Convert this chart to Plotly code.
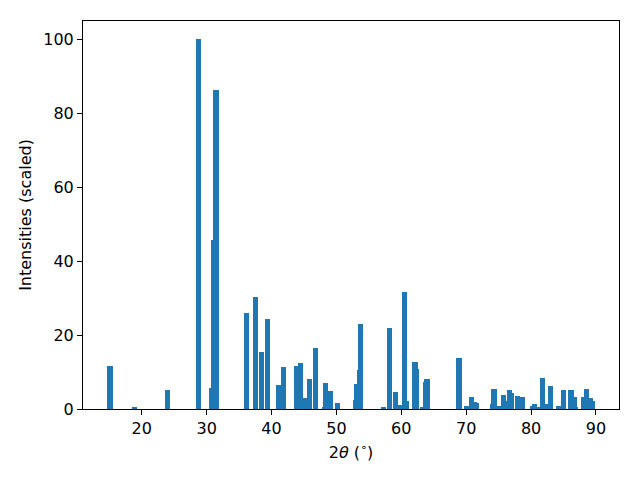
import plotly.graph_objects as go

two_theta = [
    15.10, 18.90, 23.93, 28.76,
    30.72, 31.03, 31.45,
    36.10, 37.49, 38.41, 39.34,
    41.05, 41.85, 43.80, 44.48, 45.10, 45.80, 46.73,
    48.12, 48.26, 49.05, 50.12,
    52.90, 53.10, 53.50, 53.67,
    57.20, 58.13, 59.06, 59.85, 60.45, 60.86,
    61.99, 62.12, 62.28, 63.22, 63.68, 63.83, 63.96,
    68.77, 68.90, 70.00, 70.77, 71.22, 71.53,
    74.00, 74.30, 74.90, 75.70, 75.84, 76.62, 76.90, 77.86, 78.63,
    80.20, 80.52, 81.10, 81.50, 81.70, 82.35, 82.94,
    84.17, 84.94, 86.15, 86.27, 86.62, 86.77,
    88.03, 88.49, 88.60, 89.08, 89.39,
]
intensity = [
    11.7, 0.3, 5.15, 100.0,
    5.7, 45.8, 86.2,
    26.0, 30.2, 15.3, 24.4,
    6.5, 11.4, 11.65, 12.5, 3.0, 8.1, 16.5,
    0.5, 7.0, 4.9, 1.6,
    2.4, 6.8, 10.6, 23.0,
    0.5, 22.0, 4.6, 1.1, 31.7, 2.2,
    12.7, 12.7, 10.8, 0.3, 7.3, 8.1, 8.0,
    13.8, 13.8, 0.8, 3.25, 1.9, 1.6,
    1.35, 5.4, 0.8, 3.8, 2.2, 5.15, 4.3, 3.5, 3.25,
    0.8, 1.35, 0.3, 0.5, 8.4, 1.35, 6.2,
    0.8, 5.15, 5.15, 5.1, 3.25, 0.3,
    3.25, 5.4, 5.35, 3.0, 2.2,
]

x_ticks = [20, 30, 40, 50, 60, 70, 80, 90]
y_ticks = [0, 20, 40, 60, 80, 100]

fig = go.Figure(go.Bar(
    x=two_theta, y=intensity, width=0.8,
    marker=dict(color="#1f77b4", line=dict(width=0)),
))

font = "DejaVu Sans"
axis_common = dict(
    showline=True, linecolor="black", linewidth=1, mirror=True,
    ticks="outside", ticklen=5, tickcolor="black", tickwidth=1,
    showgrid=False, zeroline=False,
    tickfont=dict(family=font, size=16, color="black"),
)
fig.update_layout(
    width=640, height=480,
    margin=dict(l=75, r=29, t=13, b=79, autoexpand=False),
    plot_bgcolor="white", paper_bgcolor="white",
    showlegend=False, bargap=0,
    xaxis=dict(range=[10.95, 93.55], tickvals=x_ticks,
               title=dict(text="2<i>θ</i> (<sup>∘</sup>)", font=dict(family=font, size=16, color="black"), standoff=9),
               **axis_common),
    yaxis=dict(range=[0, 105], tickvals=y_ticks,
               title=dict(text="Intensities (scaled)", font=dict(family=font, size=16, color="black"), standoff=7),
               **axis_common),
)
fig.write_html("out.html")
